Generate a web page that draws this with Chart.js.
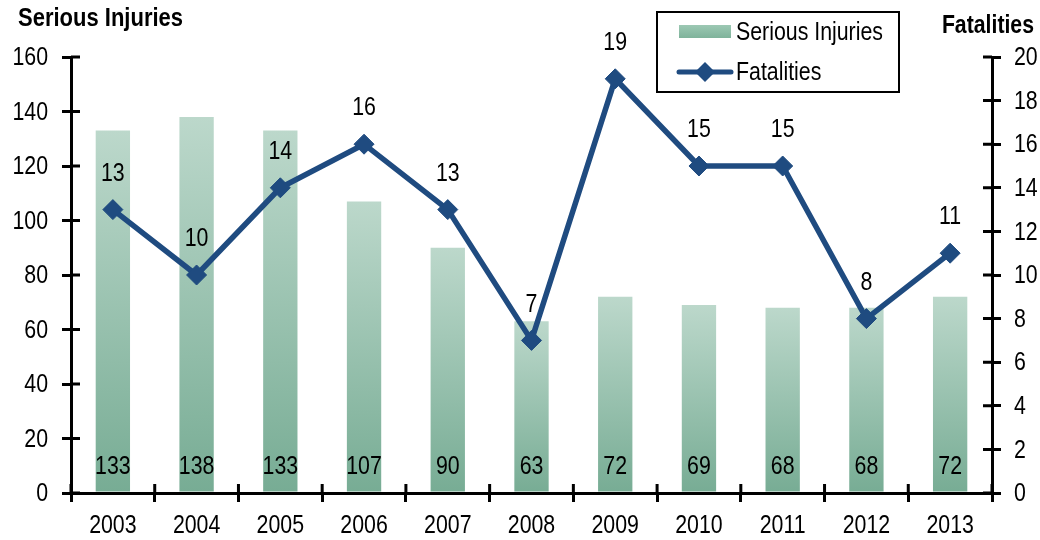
<!DOCTYPE html>
<html>
<head>
<meta charset="utf-8">
<script src="https://cdn.jsdelivr.net/npm/chart.js@4.4.1/dist/chart.umd.min.js"></script>
<style>
  html, body { margin: 0; padding: 0; background: #fff; }
  #wrap { position: relative; width: 1040px; height: 540px; }
</style>
</head>
<body>
<div id="wrap"><canvas id="chart" width="1040" height="540"></canvas></div>
<script>
// values
const years = ['2003', '2004', '2005', '2006', '2007', '2008', '2009', '2010', '2011', '2012', '2013'];
const seriousInjuries = [133, 138, 133, 107, 90, 63, 72, 69, 68, 68, 72];
const fatalities = [13, 10, 14, 16, 13, 7, 19, 15, 15, 8, 11];

const FONT = '"Liberation Sans", Arial, sans-serif';
const SQUEEZE = 0.82; // the original uses a narrow face, so squeeze Liberation Sans
const LINE_COLOR = '#1f4b80';
const BAR_TOP = '#bcd8cb';
const BAR_BOTTOM = '#77ac94';

function barGradient(context) {
  const chart = context.chart;
  const y = chart.scales.y;
  if (!chart.chartArea || !y || context.raw == null) return BAR_BOTTOM;
  const top = y.getPixelForValue(context.raw);
  const base = y.getPixelForValue(0);
  const g = chart.ctx.createLinearGradient(0, top, 0, base);
  g.addColorStop(0, BAR_TOP);
  g.addColorStop(1, BAR_BOTTOM);
  return g;
}

function narrowText(ctx, text, x, y, align, squeeze = SQUEEZE) {
  ctx.save();
  ctx.translate(x, y);
  ctx.scale(squeeze, 1);
  ctx.textAlign = align;
  ctx.fillText(text, 0, 0);
  ctx.restore();
}

// tick marks that cross the axis lines, like the original
const crossTicks = {
  id: 'crossTicks',
  afterDraw(chart) {
    const { ctx } = chart;
    const sx = chart.scales.x, sy = chart.scales.y, sy1 = chart.scales.y1;
    ctx.save();
    ctx.strokeStyle = '#000';
    ctx.lineWidth = 3;
    ctx.beginPath();
    sy.ticks.forEach((t, i) => {
      const p = sy.getPixelForTick(i);
      ctx.moveTo(sy.right, p); ctx.lineTo(sy.right + 9, p);
    });
    sy1.ticks.forEach((t, i) => {
      const p = sy1.getPixelForTick(i);
      ctx.moveTo(sy1.left - 9, p); ctx.lineTo(sy1.left, p);
    });
    const n = sx.ticks.length;
    const step = n > 1 ? sx.getPixelForTick(1) - sx.getPixelForTick(0) : sx.width;
    for (let i = 0; i <= n; i++) {
      const p = sx.getPixelForTick(0) - step / 2 + i * step;
      ctx.moveTo(p, sx.top - 9); ctx.lineTo(p, sx.top);
    }
    ctx.stroke();

    // tick labels, drawn narrow
    ctx.fillStyle = '#000';
    ctx.font = '26px ' + FONT;
    ctx.textBaseline = 'middle';
    sy.ticks.forEach((t, i) => narrowText(ctx, String(t.value), sy.right - 23, sy.getPixelForTick(i) + 1, 'right'));
    sy1.ticks.forEach((t, i) => narrowText(ctx, String(t.value), sy1.left + 22, sy1.getPixelForTick(i) + 1, 'left'));
    sx.ticks.forEach((t, i) => narrowText(ctx, years[i], sx.getPixelForTick(i), sx.top + 33, 'center'));
    ctx.restore();
  },
};

// value labels, axis titles and the boxed legend
const annotate = {
  id: 'annotate',
  afterDraw(chart) {
    const { ctx } = chart;
    ctx.save();
    ctx.fillStyle = '#000';
    ctx.font = '26px ' + FONT;
    ctx.textBaseline = 'middle';

    const barMeta = chart.getDatasetMeta(0);
    barMeta.data.forEach((el, i) => {
      narrowText(ctx, String(seriousInjuries[i]), el.x, chart.scales.y.bottom - 26, 'center');
    });
    const lineMeta = chart.getDatasetMeta(1);
    lineMeta.data.forEach((el, i) => {
      narrowText(ctx, String(fatalities[i]), el.x, el.y - 36, 'center');
    });

    ctx.font = 'bold 25px ' + FONT;
    ctx.textBaseline = 'alphabetic';
    narrowText(ctx, 'Serious Injuries', 18, 26, 'left', 0.88);
    narrowText(ctx, 'Fatalities', 1034, 33, 'right', 0.85);

    // legend box
    ctx.lineWidth = 2;
    ctx.strokeStyle = '#000';
    ctx.strokeRect(657, 12, 242, 80);
    const lg = ctx.createLinearGradient(0, 25, 0, 38);
    lg.addColorStop(0, '#9cc8b3');
    lg.addColorStop(1, '#7fb39b');
    ctx.fillStyle = lg;
    ctx.fillRect(679, 25, 52, 13);
    ctx.strokeStyle = LINE_COLOR;
    ctx.lineWidth = 5;
    ctx.lineCap = 'round';
    ctx.beginPath();
    ctx.moveTo(679, 72); ctx.lineTo(731, 72);
    ctx.stroke();
    ctx.fillStyle = LINE_COLOR;
    ctx.beginPath();
    ctx.moveTo(705, 62); ctx.lineTo(715, 72); ctx.lineTo(705, 82); ctx.lineTo(695, 72);
    ctx.closePath();
    ctx.fill();
    ctx.fillStyle = '#000';
    ctx.font = '26px ' + FONT;
    ctx.textBaseline = 'middle';
    narrowText(ctx, 'Serious Injuries', 736, 33, 'left');
    narrowText(ctx, 'Fatalities', 736, 73, 'left');
    ctx.restore();
  },
};

new Chart(document.getElementById('chart').getContext('2d'), {
  type: 'bar',
  data: {
    labels: years,
    datasets: [
      {
        type: 'bar',
        label: 'Serious Injuries',
        data: seriousInjuries,
        yAxisID: 'y',
        backgroundColor: barGradient,
        borderWidth: 0,
        categoryPercentage: 1,
        barPercentage: 0.41,
        order: 2,
      },
      {
        type: 'line',
        label: 'Fatalities',
        data: fatalities,
        yAxisID: 'y1',
        borderColor: LINE_COLOR,
        backgroundColor: LINE_COLOR,
        borderWidth: 5.5,
        tension: 0,
        pointStyle: 'rectRot',
        pointRadius: 10,
        pointBorderWidth: 1,
        pointBorderColor: LINE_COLOR,
        pointBackgroundColor: LINE_COLOR,
        order: 1,
      },
    ],
  },
  options: {
    responsive: false,
    animation: false,
    layout: { padding: { top: 57, left: 0, right: 0, bottom: 0 } },
    plugins: {
      legend: { display: false },
      tooltip: { enabled: false },
    },
    scales: {
      x: {
        grid: { display: true, drawOnChartArea: false, drawTicks: true, tickLength: 9, color: '#000', lineWidth: 3, offset: true },
        border: { display: true, color: '#000', width: 3 },
        ticks: { display: false },
        afterFit: (s) => { s.height = 47; },
      },
      y: {
        position: 'left',
        min: 0,
        max: 160,
        ticks: { stepSize: 20, display: false },
        grid: { drawOnChartArea: false, drawTicks: true, tickLength: 9, color: '#000', lineWidth: 3 },
        border: { display: true, color: '#000', width: 3 },
        afterFit: (s) => { s.width = 71; },
      },
      y1: {
        position: 'right',
        min: 0,
        max: 20,
        ticks: { stepSize: 2, display: false },
        grid: { drawOnChartArea: false, drawTicks: true, tickLength: 9, color: '#000', lineWidth: 3 },
        border: { display: true, color: '#000', width: 3 },
        afterFit: (s) => { s.width = 48; },
      },
    },
  },
  plugins: [crossTicks, annotate],
});
</script>
</body>
</html>
